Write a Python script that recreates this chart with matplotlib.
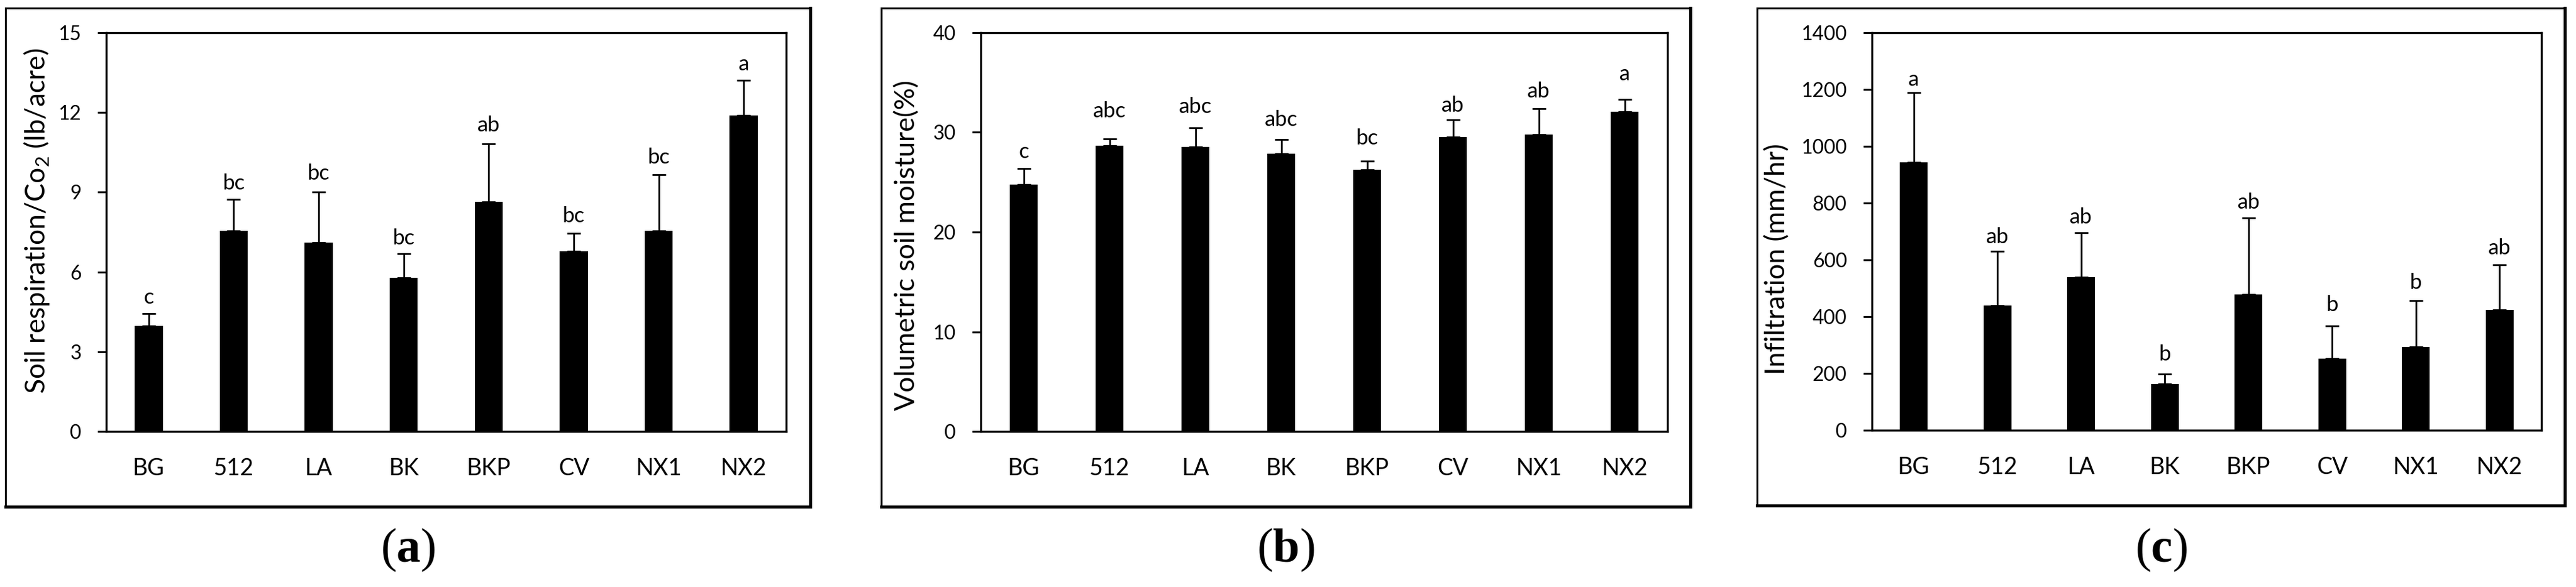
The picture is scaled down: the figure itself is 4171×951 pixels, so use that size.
import matplotlib
matplotlib.use("Agg")
import matplotlib.pyplot as plt
from matplotlib.lines import Line2D
import numpy as np

# ---------------- data ----------------
categories = ["BG", "512", "LA", "BK", "BKP", "CV", "NX1", "NX2"]

resp_mean = [3.98, 7.54, 7.11, 5.78, 8.63, 6.77, 7.54, 11.90]
resp_err = [0.45, 1.19, 1.90, 0.90, 2.18, 0.69, 2.12, 1.32]
resp_letters = ["c", "bc", "bc", "bc", "ab", "bc", "bc", "a"]
resp_letter_y = [5.03, 9.33, 9.71, 7.27, 11.52, 8.11, 10.32, 13.82]
resp_ticks = [0, 3, 6, 9, 12, 15]

moist_mean = [24.74, 28.65, 28.57, 27.86, 26.28, 29.51, 29.81, 32.07]
moist_err = [1.61, 0.67, 1.88, 1.43, 0.86, 1.73, 2.60, 1.24]
moist_letters = ["c", "abc", "abc", "abc", "bc", "ab", "ab", "a"]
moist_letter_y = [28.08, 32.14, 32.59, 31.28, 29.40, 32.71, 34.10, 35.86]
moist_ticks = [0, 10, 20, 30, 40]

infil_mean = [943, 440, 539, 164, 478, 252, 293, 423]
infil_err = [247, 191, 156, 33, 270, 115, 164, 159]
infil_letters = ["a", "ab", "ab", "b", "ab", "b", "b", "ab"]
infil_letter_y = [1235, 681, 750, 267, 803, 442, 519, 641]
infil_ticks = [0, 200, 400, 600, 800, 1000, 1200, 1400]

ylabels = [r"Soil respiration/Co$_\mathrm{2}$ (lb/acre)",
           "Volumetric soil moisture(%)",
           "Infiltration (mm/hr)"]
captions = ["a", "b", "c"]

# ---------------- style ----------------
plt.rcParams["font.family"] = ["Lato", "DejaVu Sans"]
plt.rcParams["mathtext.fontset"] = "custom"
plt.rcParams["mathtext.rm"] = "Lato"
plt.rcParams["mathtext.bf"] = "Liberation Serif:bold"

W, H = 4171, 951
fig = plt.figure(figsize=(W / 100, H / 100), dpi=100)


def fx(px):
    return px / W


def fy(py):
    return 1 - py / H


# layout in pixels (left, right, top, bottom)
axes_px = [(172, 1273, 53, 699), (1588, 2700, 53, 699), (3031, 4115, 53, 697)]
box_px = [(9, 1312, 13, 821), (1427, 2737, 13, 821), (2845, 4153, 13, 819)]
ylabel_pos = [(60, 358), (1469, 397), (2878, 420)]
caption_y = 891

panels = [
    (resp_mean, resp_err, resp_letters, resp_letter_y, resp_ticks),
    (moist_mean, moist_err, moist_letters, moist_letter_y, moist_ticks),
    (infil_mean, infil_err, infil_letters, infil_letter_y, infil_ticks),
]

x = np.arange(len(categories))

for i, (means, errs, letters, lety, ticks) in enumerate(panels):
    l, r, t, b = axes_px[i]
    ax = fig.add_axes([fx(l), fy(b), fx(r - l), (b - t) / H])
    lower = np.zeros(len(means))
    ax.bar(x, means, width=0.33, color="black", zorder=2)
    ax.errorbar(x, means, yerr=[lower, errs], fmt="none", ecolor="black",
                elinewidth=2.0, capsize=8, capthick=2.0, zorder=3)
    for xi, lab, ly in zip(x, letters, lety):
        ax.text(xi, ly, lab, ha="center", va="center", fontsize=25)
    ax.set_xlim(-0.5, len(categories) - 0.5)
    ax.set_ylim(ticks[0], ticks[-1])
    ax.set_yticks(ticks)
    ax.set_xticks(x)
    ax.set_xticklabels(categories)
    ax.tick_params(axis="y", direction="out", length=10, width=2.2,
                   labelsize=23, pad=19)
    ax.tick_params(axis="x", length=0, labelsize=27, pad=30)
    for s in ax.spines.values():
        s.set_linewidth(2.4)
        s.set_color("black")
    # y label
    lx, lyc = ylabel_pos[i]
    fig.text(fx(lx), fy(lyc), ylabels[i], rotation=90, ha="center",
             va="center", fontsize=32)
    # outer frame
    bl, br, bt, bb = box_px[i]
    fig.add_artist(Line2D([fx(bl), fx(br)], [fy(bt), fy(bt)], color="black",
                          lw=2.2, transform=fig.transFigure))
    fig.add_artist(Line2D([fx(bl), fx(bl)], [fy(bt), fy(bb)], color="black",
                          lw=2.2, transform=fig.transFigure))
    fig.add_artist(Line2D([fx(br), fx(br)], [fy(bt), fy(bb)], color="black",
                          lw=3.6, transform=fig.transFigure,
                          solid_capstyle="projecting"))
    fig.add_artist(Line2D([fx(bl), fx(br)], [fy(bb), fy(bb)], color="black",
                          lw=3.6, transform=fig.transFigure,
                          solid_capstyle="projecting"))
    # caption
    fig.text(fx((bl + br) / 2), fy(caption_y), r"($\mathbf{%s}$)" % captions[i],
             ha="center", va="center", fontsize=56,
             family=["Liberation Serif", "DejaVu Serif"])

fig.savefig("out.png", dpi=100, facecolor="white")
